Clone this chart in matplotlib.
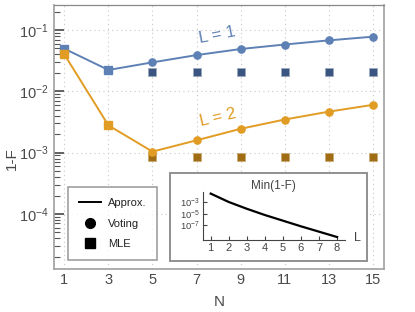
import matplotlib
matplotlib.use("Agg")
import matplotlib.pyplot as plt
from matplotlib.lines import Line2D
from matplotlib.patches import Rectangle
from matplotlib.ticker import LogLocator, NullFormatter, FixedLocator
import numpy as np

plt.rcParams['font.family'] = ['Liberation Sans', 'DejaVu Sans']
plt.rcParams['mathtext.fontset'] = 'custom'
plt.rcParams['mathtext.rm'] = 'Liberation Sans'
plt.rcParams['mathtext.it'] = 'Liberation Sans:italic'
plt.rcParams['mathtext.default'] = 'regular'

# ---- data ----
N = [1, 3, 5, 7, 9, 11, 13, 15]
approx_L1 = [0.0496, 0.0223, 0.0297, 0.039, 0.049, 0.058, 0.0678, 0.0778]
approx_L2 = [0.040, 0.00279, 0.00104, 0.00159, 0.00245, 0.00347, 0.00466, 0.00602]
N_same = [1, 3]                      # voting == MLE
N_vote = [5, 7, 9, 11, 13, 15]
mle_L1 = [0.0209] * 6
mle_L2 = [0.00086] * 6
L_inset = [1, 2, 3, 4, 5, 6, 7, 8]
min_1mF = [10**-1.65, 10**-3.06, 10**-4.2, 10**-5.25, 10**-6.2, 10**-7.15, 10**-8.05, 10**-8.95]

blue = '#5e81b5'
orange = '#e19c24'
dblue = '#3b5580'
dbrown = '#a06d14'
gray = '#a0a0a0'
tcol = '#4a4a4a'

W, H = 415, 312
fig = plt.figure(figsize=(W / 100, H / 100), dpi=100)
ax = fig.add_axes([54 / W, 1 - 269 / H, 330 / W, 264 / H])

ax.set_yscale('log')
ax.set_xlim(0.53, 15.51)
ax.set_ylim(10**-4.897, 10**-0.592)

ax.grid(True, which='major', linestyle=(0, (1, 3)), color='#c8c8c8', lw=0.8)
ax.set_xticks(N)
ax.yaxis.set_major_locator(FixedLocator([1e-4, 1e-3, 1e-2, 1e-1]))
ax.yaxis.set_minor_locator(LogLocator(base=10, subs=np.arange(2, 10), numticks=20))
ax.yaxis.set_minor_formatter(NullFormatter())
ax.tick_params(axis='both', which='both', direction='in', colors=tcol, labelsize=10.5)
ax.tick_params(axis='y', which='major', length=7, width=1.3, color='#555555', pad=4)
ax.tick_params(axis='y', which='minor', length=4, width=0.8, color='#555555')
ax.tick_params(axis='x', which='major', length=0, pad=3)
ax.tick_params(axis='x', which='minor', length=0)
for s in ax.spines.values():
    s.set_color(gray)
    s.set_linewidth(1.2)
ax.spines['top'].set_color('#888888')
ax.spines['top'].set_linewidth(0.9)

# lines
ax.plot(N, approx_L1, color=blue, lw=1.4, zorder=3)
ax.plot(N, approx_L2, color=orange, lw=1.4, zorder=3)
# MLE squares
ax.plot(N_vote, mle_L1, 's', color=dblue, ms=5.2, mec='#9aa8bd', mew=0.5, zorder=2, ls='none')
ax.plot(N_vote, mle_L2, 's', color=dbrown, ms=5.2, mec='#c7a96f', mew=0.5, zorder=2, ls='none')
# voting circles
ax.plot(N_vote, approx_L1[2:], 'o', color=blue, ms=5.2, zorder=4, ls='none')
ax.plot(N_vote, approx_L2[2:], 'o', color=orange, ms=5.2, zorder=4, ls='none')
# coinciding squares
ax.plot(N_same, approx_L1[:2], 's', color=blue, ms=6, zorder=4, ls='none')
ax.plot(N_same, approx_L2[:2], 's', color=orange, ms=6, zorder=4, ls='none')

ax.text(7.94, 0.083, 'L = 1', color=blue, fontsize=12, rotation=11, ha='center', va='center')
ax.text(7.99, 0.0037, 'L = 2', color=orange, fontsize=12, rotation=13, ha='center', va='center')

ax.set_xlabel('N', fontsize=11, color=tcol, labelpad=6)
ax.set_ylabel('1-F', fontsize=11, color=tcol)
ax.yaxis.set_label_coords((19 - 54) / 330, (269 - 159) / 264)

# legend
handles = [Line2D([], [], color='black', lw=1.4),
           Line2D([], [], marker='o', color='black', ls='none', ms=7),
           Line2D([], [], marker='s', color='black', ls='none', ms=7)]
leg = ax.legend(handles, ['Approx.', 'Voting', 'MLE'], loc='lower left',
                bbox_to_anchor=((67.7 - 54) / 330, (269 - 260.3) / 264),
                borderaxespad=0, fontsize=8, frameon=True, fancybox=False,
                handlelength=2.0, handletextpad=0.6, labelspacing=0.95,
                borderpad=1.0)
leg.get_frame().set_edgecolor('#888888')
leg.get_frame().set_linewidth(1.2)
for t in leg.get_texts():
    t.set_color('#222222')

# inset frame
fig.patches.append(Rectangle((170 / W, 1 - 260.7 / H), (366.7 - 170) / W, (260.7 - 172.7) / H,
                             transform=fig.transFigure, facecolor='white',
                             edgecolor='#888888', lw=1.3, zorder=5))

ia = fig.add_axes([202.7 / W, 1 - 240 / H, (345 - 202.7) / W, (240 - 191.7) / H], zorder=6)
ia.set_facecolor('none')
ia.set_yscale('log')
ia.plot(L_inset, min_1mF, color='black', lw=1.6)
ia.set_xlim(0.557, 8.44)
ia.set_ylim(10**-9.45, 10**-1.33)
ia.set_xticks(L_inset)
ia.yaxis.set_major_locator(FixedLocator([1e-3, 1e-5, 1e-7]))
ia.yaxis.set_minor_locator(FixedLocator([]))
ia.tick_params(axis='both', direction='in', length=3, width=0.8, colors='#444444', labelsize=8, pad=2)
ia.tick_params(axis='y', labelsize=6.8)
ia.spines['top'].set_visible(False)
ia.spines['right'].set_visible(False)
for s in ['left', 'bottom']:
    ia.spines[s].set_color('#444444')
    ia.spines[s].set_linewidth(0.8)
ia.set_title('Min(1-F)', fontsize=8.5, color='#444444', pad=2)
ia.text(357 / W, 1 - 238 / H, 'L', transform=fig.transFigure, fontsize=9, color='#444444',
        ha='center', va='center')

fig.savefig('out.png', dpi=100)
